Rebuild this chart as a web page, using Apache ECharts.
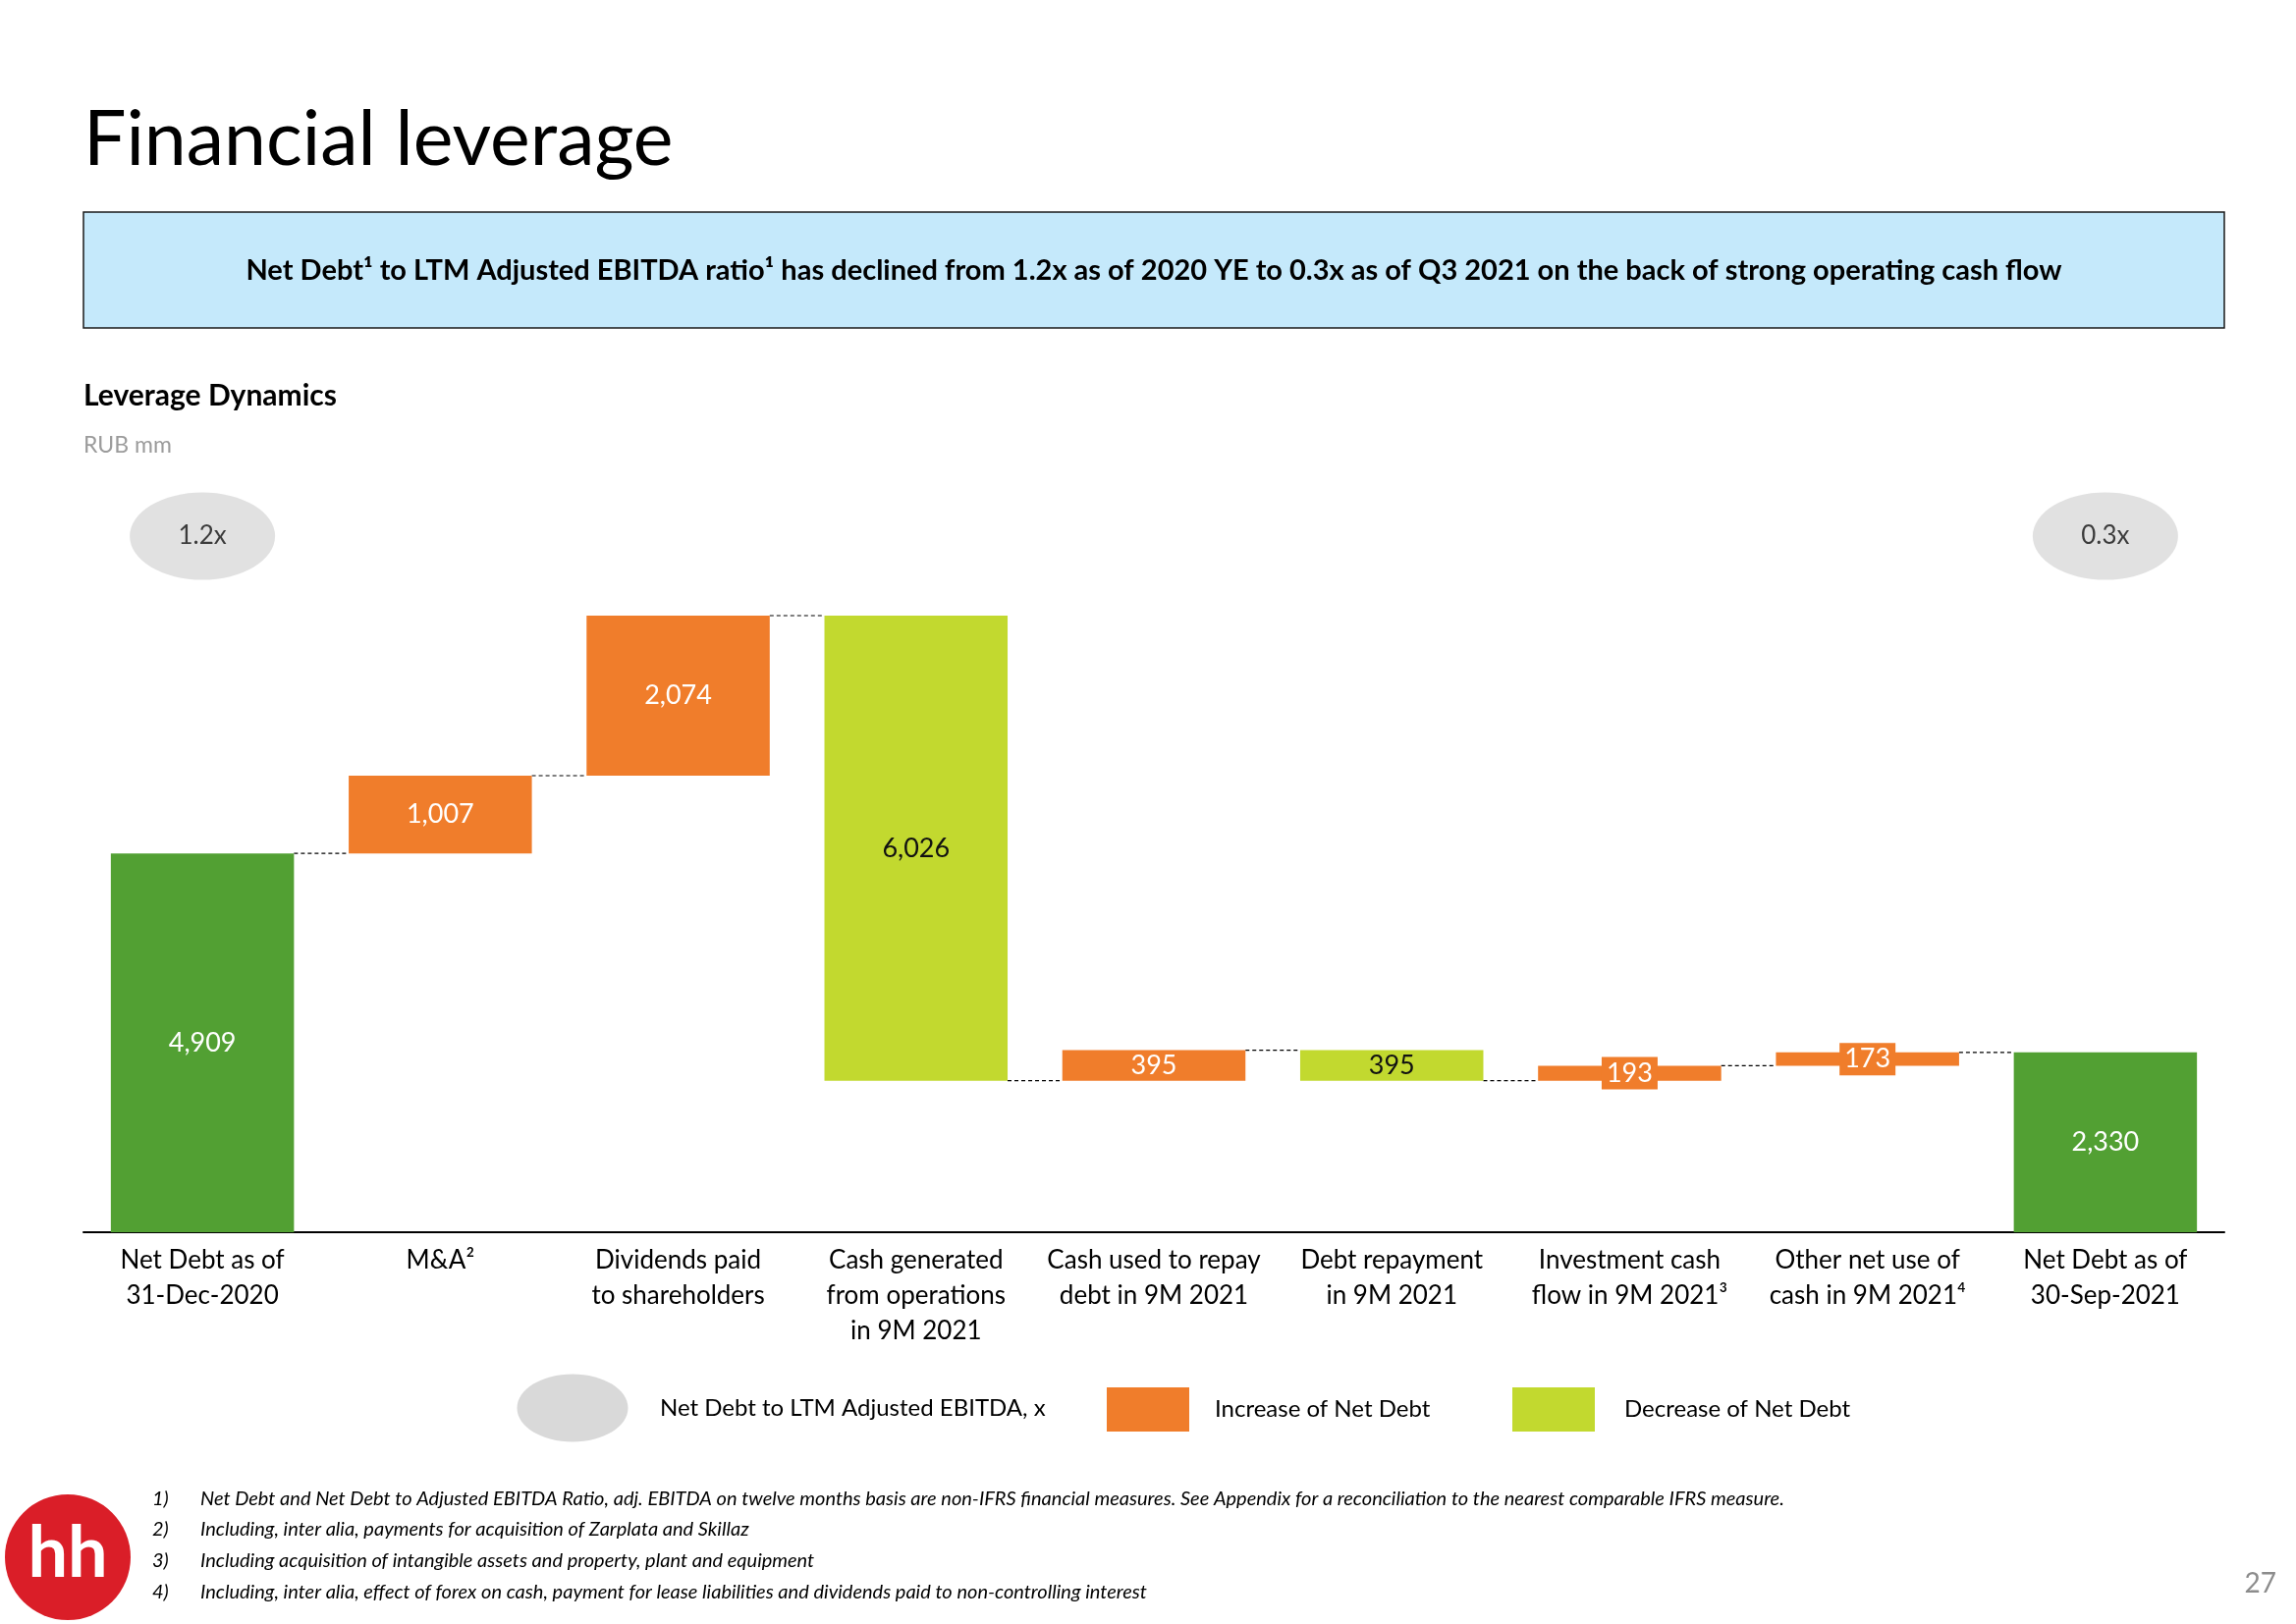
<!DOCTYPE html>
<html>
<head>
<meta charset="utf-8">
<script src="https://cdn.jsdelivr.net/npm/echarts@6/dist/echarts.min.js"></script>
<style>
html,body{margin:0;padding:0;background:#fff;}
#chart{width:2338px;height:1654px;}
</style>
</head>
<body>
<div id="chart"></div>
<script>
// ---- data ----
const categories = [
  'Net Debt as of\n31-Dec-2020',
  'M&A²',
  'Dividends paid\nto shareholders',
  'Cash generated\nfrom operations\nin 9M 2021',
  'Cash used to repay\ndebt in 9M 2021',
  'Debt repayment\nin 9M 2021',
  'Investment cash\nflow in 9M 2021³',
  'Other net use of\ncash in 9M 2021⁴',
  'Net Debt as of\n30-Sep-2021'
];
const values = [4909, 1007, 2074, 6026, 395, 395, 193, 173, 2330];
const kinds  = ['total', 'inc', 'inc', 'dec', 'inc', 'dec', 'inc', 'inc', 'total'];
const ratioIndex = [0, 8];
const ratioValues = [1.2, 0.3];
const footnotes = [
  'Net Debt and Net Debt to Adjusted EBITDA Ratio, adj. EBITDA on twelve months basis are non-IFRS financial measures. See Appendix for a reconciliation to the nearest comparable IFRS measure.',
  'Including, inter alia, payments for acquisition of Zarplata and Skillaz',
  'Including acquisition of intangible assets and property, plant and equipment',
  'Including, inter alia, effect of forex on cash, payment for lease liabilities and dividends paid to non-controlling interest'
];

// ---- build waterfall ----
const FONT = 'Lato, "Noto Sans", sans-serif';
const C_GREEN = '#52A033', C_ORANGE = '#F07D2B', C_LIME = '#C2D92F', C_GREY = '#D9D9D9';
const RATIO_NAME = 'Net Debt to LTM Adjusted EBITDA, x';
const baseData = [], totalData = [], incData = [], decData = [], connectors = [];
let running = 0;
values.forEach((v, i) => {
  const k = kinds[i];
  if (k === 'total') {
    baseData.push(0); totalData.push(v); incData.push('-'); decData.push('-');
    running = v;
  } else if (k === 'inc') {
    baseData.push(running); totalData.push('-'); decData.push('-');
    incData.push(v < 250 ? {value: v, label: {backgroundColor: C_ORANGE, padding: [4, 5, 2, 5]}} : v);
    running += v;
  } else {
    running -= v;
    baseData.push(running); totalData.push('-'); incData.push('-'); decData.push(v);
  }
  if (i < values.length - 1) connectors.push([i, running]);
});
const bubbleLevel = 9020;
const bubbleData = ratioIndex.map((ix, j) => [ix, bubbleLevel, ratioValues[j]]);
const fmt = p => Number(p.value).toLocaleString('en-US');
const BAR_W = 0.77;

const chart = echarts.init(document.getElementById('chart'));
const graphics = [
  {type: 'text', x: 85, y: 143, style: {text: 'Financial leverage', font: '77px ' + FONT, fill: '#000', align: 'left', verticalAlign: 'middle'}},
  {type: 'rect', shape: {x: 85, y: 216, width: 2180, height: 118}, style: {fill: '#C5E9FB', stroke: '#1a1a1a', lineWidth: 1.5}},
  {type: 'text', x: 1175, y: 276, style: {text: 'Net Debt¹ to LTM Adjusted EBITDA ratio¹ has declined from 1.2x as of 2020 YE to 0.3x as of Q3 2021 on the back of strong operating cash flow', font: 'bold 29px ' + FONT, fill: '#000', align: 'center', verticalAlign: 'middle'}},
  {type: 'text', x: 85, y: 403, style: {text: 'Leverage Dynamics', font: 'bold 30px ' + FONT, fill: '#000', align: 'left', verticalAlign: 'middle'}},
  {type: 'text', x: 85, y: 454, style: {text: 'RUB mm', font: '23px ' + FONT, fill: '#9B9B9B', align: 'left', verticalAlign: 'middle'}},
  // legend entry for the ratio bubbles
  {type: 'ellipse', shape: {cx: 583, cy: 1434, rx: 56.5, ry: 34.5}, style: {fill: C_GREY}},
  {type: 'text', x: 672, y: 1434, style: {text: RATIO_NAME, font: '24px ' + FONT, fill: '#000', align: 'left', verticalAlign: 'middle'}},
  {type: 'circle', shape: {cx: 69, cy: 1586, r: 64}, style: {fill: '#DA1E28'}},
  {type: 'text', x: 69, y: 1583, style: {text: 'hh', font: 'bold 72px ' + FONT, fill: '#fff', align: 'center', verticalAlign: 'middle'}},
  {type: 'text', x: 2318, y: 1613, style: {text: '27', font: '28px ' + FONT, fill: '#8C8C8C', align: 'right', verticalAlign: 'middle'}}
];
const fnY = [1527, 1558, 1590, 1622];
footnotes.forEach((t, i) => {
  graphics.push({type: 'text', x: 155, y: fnY[i], style: {text: (i + 1) + ')', font: 'italic 20px ' + FONT, fill: '#000', align: 'left', verticalAlign: 'middle'}});
  graphics.push({type: 'text', x: 204, y: fnY[i], style: {text: t, font: 'italic 20px ' + FONT, fill: '#000', align: 'left', verticalAlign: 'middle'}});
});

const legendText = {fontFamily: FONT, fontSize: 24, color: '#000'};
chart.setOption({
  backgroundColor: '#fff',
  animation: false,
  textStyle: {fontFamily: FONT},
  graphic: graphics,
  legend: [
    {data: [{name: 'Increase of Net Debt', icon: 'rect'}], left: 1122, top: 1408, itemWidth: 84, itemHeight: 45, selectedMode: false, textStyle: Object.assign({padding: [0, 0, 0, 21]}, legendText)},
    {data: [{name: 'Decrease of Net Debt', icon: 'rect'}], left: 1535, top: 1408, itemWidth: 84, itemHeight: 45, selectedMode: false, textStyle: Object.assign({padding: [0, 0, 0, 25]}, legendText)}
  ],
  grid: {left: 85, right: 73, top: 469, bottom: 399, containLabel: false},
  xAxis: {
    type: 'category', data: categories,
    axisLine: {lineStyle: {color: '#000', width: 2}},
    axisTick: {show: false},
    axisLabel: {interval: 0, margin: 11, fontFamily: FONT, fontSize: 26, lineHeight: 36, color: '#000'}
  },
  yAxis: {type: 'value', min: 0, max: 10000, show: false, splitLine: {show: false}},
  series: [
    {type: 'bar', name: 'base', stack: 'wf', data: baseData, barWidth: (BAR_W * 100) + '%', itemStyle: {color: 'transparent'}, silent: true, emphasis: {disabled: true}},
    {type: 'bar', name: 'Net Debt', stack: 'wf', data: totalData, itemStyle: {color: C_GREEN},
      label: {show: true, position: 'inside', formatter: fmt, color: '#fff', fontSize: 27, fontFamily: FONT}},
    {type: 'bar', name: 'Increase of Net Debt', stack: 'wf', data: incData, itemStyle: {color: C_ORANGE},
      label: {show: true, position: 'inside', formatter: fmt, color: '#fff', fontSize: 27, fontFamily: FONT}},
    {type: 'bar', name: 'Decrease of Net Debt', stack: 'wf', data: decData, itemStyle: {color: C_LIME},
      label: {show: true, position: 'inside', formatter: fmt, color: '#111', fontSize: 27, fontFamily: FONT}},
    {type: 'custom', name: 'connectors', data: connectors, z: 1, silent: true,
      renderItem: (params, api) => {
        const p = api.coord([api.value(0), api.value(1)]);
        const band = api.size([1, 0])[0];
        const half = band * BAR_W / 2;
        return {type: 'line', shape: {x1: p[0] + half, y1: p[1], x2: p[0] + band - half, y2: p[1]},
          style: {stroke: '#000', lineWidth: 1.2, lineDash: [4, 3]}};
      }},
    {type: 'scatter', name: RATIO_NAME, data: bubbleData, symbol: 'circle', symbolSize: [148, 89],
      itemStyle: {color: C_GREY},
      label: {show: true, position: 'inside', formatter: p => p.value[2].toFixed(1) + 'x', color: '#111', fontSize: 26, fontFamily: FONT}}
  ]
});
</script>
</body>
</html>
